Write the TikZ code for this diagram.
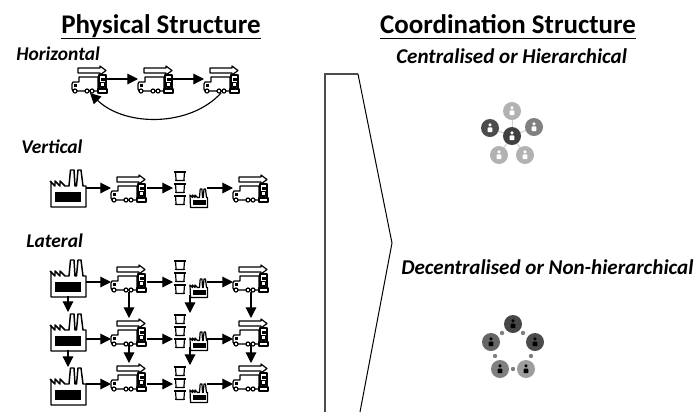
\documentclass[tikz,border=0pt]{standalone}
\usepackage{fontspec}
\setmainfont{Carlito}
\usetikzlibrary{arrows.meta}
\tikzset{
  x=0.75pt,y=-0.75pt,
  ln/.style={draw=black,line width=0.9pt,fill=white,line join=round},
  conn/.style={draw=black,line width=0.85pt,-{Triangle[length=8pt,width=8pt]}},
  head/.style={inner sep=0pt,anchor=base,font=\bfseries\fontsize{20.2}{24}\selectfont},
  ulrule/.style={draw=black,line width=1.4pt},
  subl/.style={inner sep=0pt,anchor=base west,font=\bfseries\itshape\fontsize{14.6}{17}\selectfont},
  subr/.style={inner sep=0pt,anchor=base west,font=\bfseries\itshape\fontsize{15.8}{18}\selectfont},
  truck/.pic={
    \draw[ln] (6,2)--(28,2)--(28,0)--(34,4.5)--(28,9)--(28,7)--(6,7)--cycle;
    \draw[ln] (1,16)--(7,16)--(7,11)--(26,11)--(26,25)--(1,25)--(0,23)--(0,18)--cycle;
    \fill (2,18) rectangle (5,20.5);
    \draw[ln] (26,23)--(35,23)--(35,27)--(26,27)--cycle;
    \draw[ln] (27,9)rectangle(34,23);
    \fill (28.5,12) rectangle (32.5,15);
    \draw[ln] (28.5,16.5) rectangle (32.5,21);
    \draw[ln] (3,25) circle (2);
    \draw[ln] (15,25) circle (2);
    \draw[ln] (20,25) circle (2);
  },
  factory/.pic={
    \draw[ln,line width=1.1pt] (0,12)--(5,17)--(5,12)--(10,17)--(10,12)--(15,17)--(19,17)--(20.5,1)--(24,1)--(25,17)--(26.5,17)--(28,1)--(31,1)--(33,17)--(36,17)--(36,38)--(1,38)--(1,12);
    \fill (5,23) rectangle (31,33);
  },
  smallfactory/.pic={
    \draw[ln] (0,7)--(2.5,9.5)--(2.5,7)--(5,9.5)--(5,7)--(7.5,9.5)--(9.5,9.5)--(10.2,1)--(12,1)--(12.5,9.5)--(13.2,9.5)--(14,1)--(15.5,1)--(16.5,9.5)--(17.5,9.5)--(17.5,19.5)--(0.5,19.5)--cycle;
    \fill (2.5,12) rectangle (15.5,17);
  },
  cup/.pic={
    \draw[ln] (2,2)--(2.6,10.5)--(10.4,10.5)--(11,2);
    \draw[ln,line width=1.4pt] (0.3,2)--(12.7,2);
    \draw[ln,line width=1.4pt] (1.6,10.5)--(11.4,10.5);
  },
  personw/.pic={
    \fill[white] (0,-3.2) circle (1.7);
    \fill[white,rounded corners=0.6pt] (-2.4,-0.6) rectangle (2.4,4.2);
  },
  personb/.pic={
    \fill[black] (0,-3.2) circle (1.7);
    \fill[black,rounded corners=0.6pt] (-2.4,-0.4) rectangle (2.4,4.2);
  },
}
\newcommand{\cups}[3]{%
  \pic at (173.5,#1) {cup};
  \pic at (173.5,#2) {cup};
  \pic at (173.5,#3) {cup};
}
\begin{document}
\begin{tikzpicture}
\useasboundingbox (0,0) rectangle (697,412);

% titles
\node[head] (phys) at (161,33) {Physical Structure};
\node[head] (coord) at (508,33) {Coordination Structure};
\coordinate (ul) at (0,38.5);
\draw[ulrule] (phys.west |- ul)--(phys.east |- ul);
\draw[ulrule] (coord.west |- ul)--(coord.east |- ul);
\node[subl] (hor) at (16,60) {Horizontal};
\node[subl] (ver) at (21,153) {Vertical};
\node[subl] (lat) at (26,247) {Lateral};
\node[subr] (cen) at (396,63) {Centralised or Hierarchical};
\node[subr] (dec) at (401,274) {Decentralised or Non-hierarchical};

% chevron
\draw[line width=0.9pt,draw=black!70] (325,412)--(325,74)--(358,74);
\draw[line width=0.75pt] (358,74)--(392,243)--(360,412);

% horizontal row
\pic at (72,66) {truck};
\pic at (138,66) {truck};
\pic at (204,66) {truck};
\coordinate (h1o) at (107,79); \coordinate (h2i) at (138,79);
\coordinate (h2o) at (173,79); \coordinate (h3i) at (204,79);
\coordinate (h3b) at (221,93); \coordinate (h1b) at (90,93);
\draw[conn] (h1o)--(h2i);
\draw[conn] (h2o)--(h3i);
\draw[conn] (h3b) .. controls (190,127) and (125,127) .. (h1b);

% vertical row
\pic at (50,169) {factory};
\pic at (111,175) {truck};
\cups{170}{182}{194}
\pic at (190,188) {smallfactory};
\pic at (233,175) {truck};
\coordinate (v1) at (86,188); \coordinate (v2) at (111,188);
\coordinate (v3) at (147,188); \coordinate (v4) at (173,188);
\coordinate (v5) at (207,188); \coordinate (v6) at (233,188);
\draw[conn] (v1)--(v2);
\draw[conn] (v3)--(v4);
\draw[conn] (v5)--(v6);

% lateral rows
\pic at (50,259) {factory};
\pic at (111,265) {truck};
\cups{259}{271}{283}
\pic at (190,278) {smallfactory};
\pic at (233,265) {truck};
\pic at (50,313) {factory};
\pic at (111,319) {truck};
\cups{313}{325}{337}
\pic at (190,331) {smallfactory};
\pic at (233,319) {truck};
\pic at (50,367) {factory};
\pic at (111,364) {truck};
\cups{365}{377}{389}
\pic at (190,383) {smallfactory};
\pic at (233,364) {truck};

\foreach \r/\y in {a/282,b/339,c/384}{
  \coordinate (\r1) at (86,\y); \coordinate (\r2) at (111,\y);
  \coordinate (\r3) at (147,\y); \coordinate (\r4) at (173,\y);
  \coordinate (\r5) at (207,\y); \coordinate (\r6) at (233,\y);
  \draw[conn] (\r1)--(\r2);
  \draw[conn] (\r3)--(\r4);
  \draw[conn] (\r5)--(\r6);
}
\foreach \n/\x/\ya/\yb in {p/68/296/312,q/68/350/367,r/129/292/318,s/129/345/363,t/190/295/313,u/190/347/365,w/251/292/318,z/251/345/363}{
  \coordinate (\n1) at (\x,\ya); \coordinate (\n2) at (\x,\yb);
  \draw[conn] (\n1)--(\n2);
}

% centralised
\foreach \x/\y in {512/111,490/128,534/127,499/155,525/155}{
  \draw[gray!35,line width=0.75pt] (512,136)--(\x,\y);
}
\foreach \x/\y/\c in {512/111/30,490/128/70,534/127/50,499/155/30,525/155/30,512/136/75}{
  \fill[black!\c] (\x,\y) circle (9);
  \pic at (\x,\y) {personw};
}
% decentralised
\foreach \x/\y in {502/333,523/333,495/356,531/356,513/369}{
  \fill[black!50] (\x,\y) circle (2.2);
}
\foreach \x/\y/\c in {513/324/72,491/342/60,535/342/70,500/369/50,526/369/38}{
  \fill[black!\c] (\x,\y) circle (9);
  \pic at (\x,\y) {personb};
}
\end{tikzpicture}
\end{document}
